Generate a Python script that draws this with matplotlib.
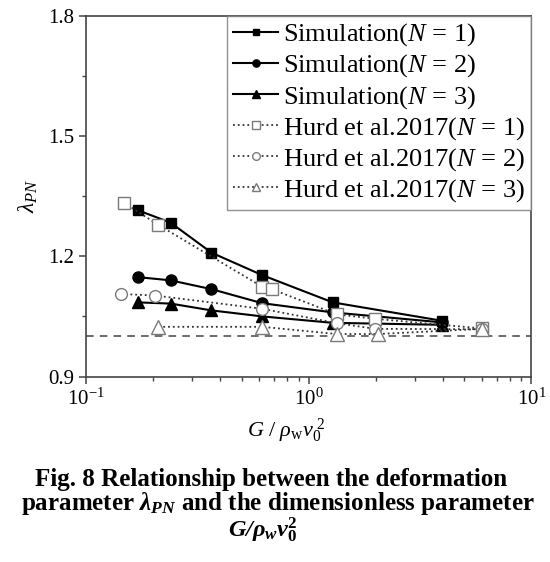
import numpy as np
import matplotlib
matplotlib.use('Agg')
import matplotlib.pyplot as plt

# fuente tipo Times
plt.rcParams['font.family'] = ['Liberation Serif', 'DejaVu Serif']
plt.rcParams['mathtext.fontset'] = 'custom'
plt.rcParams['mathtext.rm'] = 'Liberation Serif'
plt.rcParams['mathtext.it'] = 'Liberation Serif:italic'
plt.rcParams['mathtext.bf'] = 'Liberation Serif:bold'
plt.rcParams['mathtext.bfit'] = 'Liberation Serif:bold:italic'

# Datos
x_sim = [0.170, 0.239, 0.365, 0.617, 1.28, 3.98]
sim_n1 = [1.315, 1.284, 1.209, 1.153, 1.085, 1.039]
sim_n2 = [1.148, 1.140, 1.118, 1.083, 1.060, 1.035]
sim_n3 = [1.085, 1.082, 1.065, 1.050, 1.034, 1.029]

x_hurd1 = [0.147, 0.211, 0.617, 0.681, 1.34, 1.99, 6.0]
hurd_n1 = [1.334, 1.278, 1.124, 1.118, 1.055, 1.044, 1.020]
x_hurd2 = [0.143, 0.204, 0.617, 1.34, 1.99, 6.0]
hurd_n2 = [1.106, 1.102, 1.069, 1.033, 1.019, 1.018]
x_hurd3 = [0.211, 0.617, 1.34, 2.04, 6.0]
hurd_n3 = [1.024, 1.024, 1.006, 1.006, 1.019]

ref_y = 1.0

fig = plt.figure(figsize=(5.5, 5.62), dpi=100)
ax = fig.add_axes([0.157, 0.330, 0.809, 0.642])

# simulaciones (lineas continuas, marcadores rellenos)
ax.plot(x_sim, sim_n1, '-', color='black', lw=1.5, marker='s', ms=7.5, label='Simulation($N$ = 1)', zorder=3)
ax.plot(x_sim, sim_n2, '-', color='black', lw=1.5, marker='o', ms=8, label='Simulation($N$ = 2)', zorder=3)
ax.plot(x_sim, sim_n3, '-', color='black', lw=1.5, marker='^', ms=8.5, label='Simulation($N$ = 3)', zorder=3)

# Hurd et al. 2017 (punteadas, marcadores huecos)
gris = '#7a7a7a'
ax.plot(x_hurd1, hurd_n1, ':', color='#333333', lw=1.3, marker='s', ms=8, mfc='white', mec=gris,
        label='Hurd et al.2017($N$ = 1)', zorder=4)
ax.plot(x_hurd2, hurd_n2, ':', color='#333333', lw=1.3, marker='o', ms=8.5, mfc='white', mec=gris,
        label='Hurd et al.2017($N$ = 2)', zorder=4)
ax.plot(x_hurd3, hurd_n3, ':', color='#333333', lw=1.3, marker='^', ms=9.5, mfc='white', mec=gris,
        label='Hurd et al.2017($N$ = 3)', zorder=4)

# linea de referencia
ax.axhline(ref_y, color='#444444', lw=1.1, ls=(0, (5, 4)), zorder=2)

ax.set_xscale('log')
ax.set_xlim(0.1, 10)
ax.set_ylim(0.9, 1.8)
ax.set_yticks([0.9, 1.2, 1.5, 1.8])
ax.set_yticks([1.05, 1.35, 1.65], minor=True)
ax.yaxis.set_major_formatter(matplotlib.ticker.FormatStrFormatter('%.1f'))

for s in ax.spines.values():
    s.set_color('#444444')
    s.set_linewidth(1.2)
ax.tick_params(which='major', direction='out', length=5, width=1.1, labelsize=15, color='#444444')
ax.tick_params(which='minor', direction='out', length=3, width=1.0, color='#444444')

ax.set_ylabel(r'$\lambda_{PN}$', fontsize=17, labelpad=6)
ax.set_xlabel(r'$G\ /\ \rho_{\rm w}v_0^{\ 2}$', fontsize=16, labelpad=2)
ax.xaxis.set_label_coords(0.45, -0.11)

leg = ax.legend(loc='upper right', fontsize=19, frameon=True, fancybox=False,
                borderaxespad=0, handlelength=1.7, handletextpad=0.2,
                labelspacing=0.16, borderpad=0.22, markerscale=0.65)
leg.get_frame().set_edgecolor('#777777')
leg.get_frame().set_linewidth(1.0)

# pie de figura
fig.text(0.492, 0.147, 'Fig. 8 Relationship between the deformation',
         ha='center', va='center', fontsize=18, fontweight='bold')
fig.text(0.505, 0.104, r'parameter $\mathbfit{\lambda}_{\mathbfit{PN}}$ and the dimensionless parameter',
         ha='center', va='center', fontsize=18, fontweight='bold')
fig.text(0.478, 0.056, r'$\mathbfit{G/\rho}_{\mathbfit{w}}\mathbfit{v}_{\mathbf{0}}^{\mathbf{2}}$',
         ha='center', va='center', fontsize=17.5)

fig.savefig('out.png', dpi=100)
